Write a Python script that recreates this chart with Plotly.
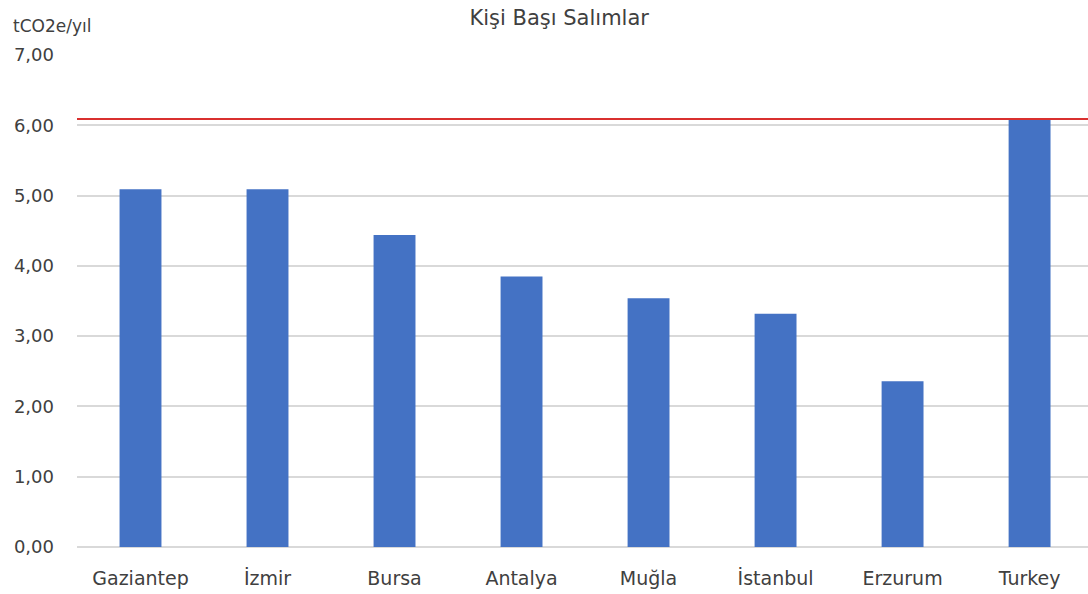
import plotly.graph_objects as go

categories = ["Gaziantep", "İzmir", "Bursa", "Antalya", "Muğla", "İstanbul", "Erzurum", "Turkey"]
values = [5.09, 5.09, 4.44, 3.85, 3.54, 3.32, 2.36, 6.09]
reference_value = 6.09
title = "Kişi Başı Salımlar"
unit_label = "tCO2e/yıl"

FONT = "'DejaVu Sans', sans-serif"
TXT = "#404040"

fig = go.Figure()
fig.add_trace(go.Bar(x=categories, y=values, marker=dict(color="#4472C4", line=dict(width=0)),
                     hoverinfo="x+y"))
fig.add_shape(type="line", xref="paper", yref="y", x0=0, x1=1, y0=reference_value, y1=reference_value,
              line=dict(color="#D9302F", width=2))

fig.update_layout(
    width=1088, height=594,
    margin=dict(l=77, r=0, t=55, b=47),
    paper_bgcolor="white", plot_bgcolor="white",
    bargap=0.67,
    showlegend=False,
    separators=",.",
    font=dict(family=FONT, color=TXT, size=18),
    title=dict(text=title, x=0.514, xanchor="center", y=0.97, yanchor="middle",
               font=dict(family=FONT, size=21, color=TXT)),
    xaxis=dict(range=[-0.5, 7.46], showgrid=False, showline=False, ticks="",
               ticklabelstandoff=18,
               tickfont=dict(size=19, color=TXT, family=FONT)),
    yaxis=dict(range=[0, 7], dtick=1, tickformat=".2f", showgrid=True, gridcolor="#D9D9D9",
               gridwidth=1.5, zeroline=True, zerolinecolor="#D9D9D9", zerolinewidth=1.5,
               showline=False, ticks="", ticklabelstandoff=22,
               tickfont=dict(size=18, color=TXT, family=FONT)),
    annotations=[dict(text=unit_label, xref="paper", yref="paper", x=-0.065, y=1.0, xanchor="left",
                      yanchor="middle", yshift=29, showarrow=False,
                      font=dict(family=FONT, size=17, color=TXT))],
)

fig.write_html("out.html")
